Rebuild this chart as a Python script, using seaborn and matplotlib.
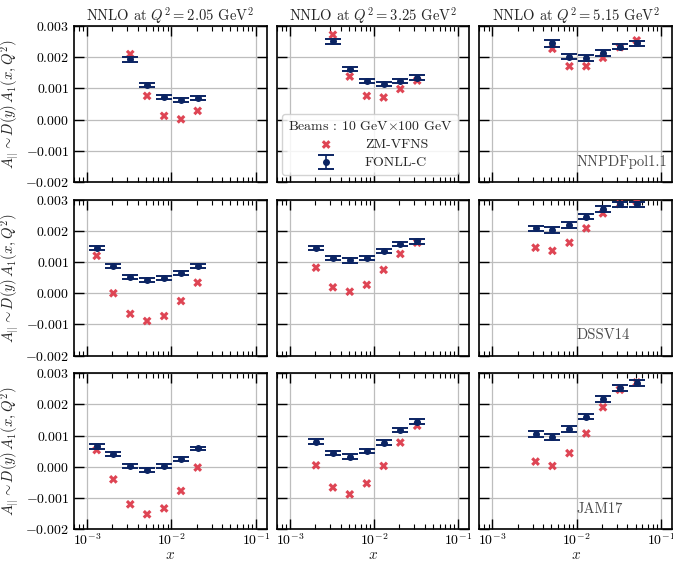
import numpy as np
import pandas as pd
import matplotlib
matplotlib.use("Agg")
import matplotlib.pyplot as plt
import seaborn as sns
from matplotlib.ticker import FuncFormatter, MultipleLocator, LogLocator

sns.set_style("ticks")
plt.rcParams.update({
    "font.family": "serif",
    "font.serif": ["cmr10"],
    "mathtext.fontset": "cm",
    "axes.unicode_minus": False,
    "axes.formatter.use_mathtext": True,
})

# ---------------- data ----------------
q2_labels = ["2.05", "3.25", "5.15"]
pdf_sets = ["NNPDFpol1.1", "DSSV14", "JAM17"]

x_q1 = [1.3e-3, 2.05e-3, 3.25e-3, 5.15e-3, 8.2e-3, 1.3e-2, 2.05e-2]
x_q2 = [2.05e-3, 3.25e-3, 5.15e-3, 8.2e-3, 1.3e-2, 2.05e-2, 3.25e-2]
x_q3 = [3.25e-3, 5.15e-3, 8.2e-3, 1.3e-2, 2.05e-2, 3.25e-2, 5.15e-2]

# NNPDFpol1.1
nnpdf_x = [x_q1[2:], x_q2[1:], x_q3[1:]]
nnpdf_zm = [
    [2.10e-3, 0.76e-3, 0.12e-3, 0.01e-3, 0.28e-3],
    [2.72e-3, 1.38e-3, 0.76e-3, 0.71e-3, 0.98e-3, 1.25e-3],
    [2.27e-3, 1.71e-3, 1.71e-3, 1.98e-3, 2.32e-3, 2.54e-3],
]
nnpdf_fonll = [
    [1.93e-3, 1.10e-3, 0.73e-3, 0.63e-3, 0.70e-3],
    [2.51e-3, 1.63e-3, 1.23e-3, 1.14e-3, 1.23e-3, 1.35e-3],
    [2.44e-3, 2.02e-3, 1.97e-3, 2.13e-3, 2.33e-3, 2.44e-3],
]
nnpdf_err = [
    [0.07e-3, 0.07e-3, 0.06e-3, 0.06e-3, 0.06e-3],
    [0.08e-3, 0.07e-3, 0.07e-3, 0.07e-3, 0.07e-3, 0.08e-3],
    [0.10e-3, 0.09e-3, 0.09e-3, 0.09e-3, 0.08e-3, 0.08e-3],
]

# DSSV14
dssv_x = [x_q1, x_q2, x_q3]
dssv_zm = [
    [1.20e-3, 0.00e-3, -0.66e-3, -0.89e-3, -0.73e-3, -0.25e-3, 0.34e-3],
    [0.82e-3, 0.19e-3, 0.05e-3, 0.27e-3, 0.75e-3, 1.26e-3, 1.62e-3],
    [1.46e-3, 1.36e-3, 1.62e-3, 2.08e-3, 2.56e-3, 2.86e-3, 2.94e-3],
]
dssv_fonll = [
    [1.46e-3, 0.87e-3, 0.53e-3, 0.43e-3, 0.48e-3, 0.66e-3, 0.87e-3],
    [1.46e-3, 1.14e-3, 1.05e-3, 1.14e-3, 1.36e-3, 1.57e-3, 1.67e-3],
    [2.08e-3, 2.03e-3, 2.19e-3, 2.46e-3, 2.70e-3, 2.86e-3, 2.86e-3],
]
dssv_err = [
    [0.07e-3, 0.06e-3, 0.06e-3, 0.06e-3, 0.06e-3, 0.06e-3, 0.06e-3],
    [0.07e-3, 0.07e-3, 0.07e-3, 0.07e-3, 0.07e-3, 0.07e-3, 0.08e-3],
    [0.09e-3, 0.09e-3, 0.09e-3, 0.09e-3, 0.09e-3, 0.08e-3, 0.08e-3],
]

# JAM17
jam_x = [x_q1, x_q2, x_q3]
jam_zm = [
    [0.54e-3, -0.40e-3, -1.20e-3, -1.52e-3, -1.33e-3, -0.77e-3, -0.02e-3],
    [0.05e-3, -0.66e-3, -0.88e-3, -0.53e-3, 0.03e-3, 0.78e-3, 1.32e-3],
    [0.17e-3, 0.03e-3, 0.44e-3, 1.07e-3, 1.91e-3, 2.47e-3, 2.71e-3],
]
jam_fonll = [
    [0.66e-3, 0.41e-3, 0.03e-3, -0.10e-3, 0.02e-3, 0.25e-3, 0.59e-3],
    [0.81e-3, 0.44e-3, 0.33e-3, 0.50e-3, 0.78e-3, 1.19e-3, 1.44e-3],
    [1.05e-3, 0.96e-3, 1.21e-3, 1.61e-3, 2.18e-3, 2.52e-3, 2.68e-3],
]
jam_err = [
    [0.08e-3, 0.06e-3, 0.06e-3, 0.06e-3, 0.06e-3, 0.06e-3, 0.06e-3],
    [0.07e-3, 0.07e-3, 0.07e-3, 0.07e-3, 0.07e-3, 0.07e-3, 0.08e-3],
    [0.09e-3, 0.09e-3, 0.09e-3, 0.09e-3, 0.09e-3, 0.09e-3, 0.09e-3],
]

all_x = [nnpdf_x, dssv_x, jam_x]
all_zm = [nnpdf_zm, dssv_zm, jam_zm]
all_fonll = [nnpdf_fonll, dssv_fonll, jam_fonll]
all_err = [nnpdf_err, dssv_err, jam_err]

RED = "#dd3b4b"
NAVY = "#0b2463"

# ---------------- figure ----------------
fig = plt.figure(figsize=(6.73, 5.62), dpi=100)
axes = fig.subplots(3, 3, sharex=True, sharey=True)
fig.subplots_adjust(left=0.110, right=0.9985, top=0.9537, bottom=0.0582,
                    wspace=0.052, hspace=0.113)

yfmt = FuncFormatter(lambda v, p: "$%.3f$" % (0.0 if abs(v) < 1e-12 else v))

for r in range(3):
    for c in range(3):
        ax = axes[r, c]
        df = pd.DataFrame({"x": all_x[r][c], "zm": all_zm[r][c],
                           "fonll": all_fonll[r][c], "err": all_err[r][c]})
        sns.scatterplot(data=df, x="x", y="zm", marker="X", s=40, color=RED,
                        edgecolor="none", alpha=0.95, ax=ax, zorder=3,
                        label="ZM-VFNS", legend=False)
        ax.errorbar(df["x"], df["fonll"], yerr=df["err"], fmt="o", ms=4.0,
                    color=NAVY, ecolor=NAVY, elinewidth=1.2, capsize=5.5,
                    capthick=1.4, zorder=4, label="FONLL-C")
        ax.set_xscale("log")
        ax.set_xlim(7e-4, 1.35e-1)
        ax.set_ylim(-0.002, 0.003)
        ax.yaxis.set_major_locator(MultipleLocator(0.001))
        ax.yaxis.set_major_formatter(yfmt)
        ax.xaxis.set_major_locator(LogLocator(base=10, numticks=10))
        ax.xaxis.set_minor_locator(LogLocator(base=10, subs=np.arange(2, 10), numticks=20))
        ax.grid(True, which="major", color="#bdbdbd", lw=0.9)
        ax.set_axisbelow(True)
        ax.tick_params(which="both", direction="in", top=True, right=True,
                       labelsize=10, colors="black")
        ax.tick_params(axis="x", which="both", pad=2)
        ax.tick_params(which="major", length=7.5, width=1.0)
        ax.tick_params(which="minor", length=3.5, width=0.8)
        for sp in ax.spines.values():
            sp.set_linewidth(1.2)
            sp.set_color("black")
        ax.set_xlabel("")
        ax.set_ylabel("")
        if r == 0:
            ax.set_title(r"NNLO at $Q^2 = %s$ GeV$^2$" % q2_labels[c], fontsize=10.5, pad=4)
        if c == 0:
            ax.set_ylabel(r"$A_{||} \sim D(y)\,A_1(x,Q^2)$", fontsize=10.5, labelpad=3)
        if r == 2:
            ax.set_xlabel(r"$x$", fontsize=11, labelpad=0)
        if c == 2:
            ax.text(1.0e-2, -0.00135, pdf_sets[r], fontsize=10.5, color="#4a4a4a",
                    ha="left", va="center")

# legend on the top-middle panel
ax = axes[0, 1]
handles, labels = ax.get_legend_handles_labels()
leg = ax.legend(handles, labels, loc="lower left", bbox_to_anchor=(0.03, 0.045),
                borderaxespad=0, fontsize=10, title=r"Beams : 10 GeV$\times$100 GeV",
                title_fontsize=10, frameon=True, framealpha=0.85,
                edgecolor="#cccccc", fancybox=True, handletextpad=1.8,
                borderpad=0.4, labelspacing=0.4)

fig.savefig("out.png", dpi=100)
